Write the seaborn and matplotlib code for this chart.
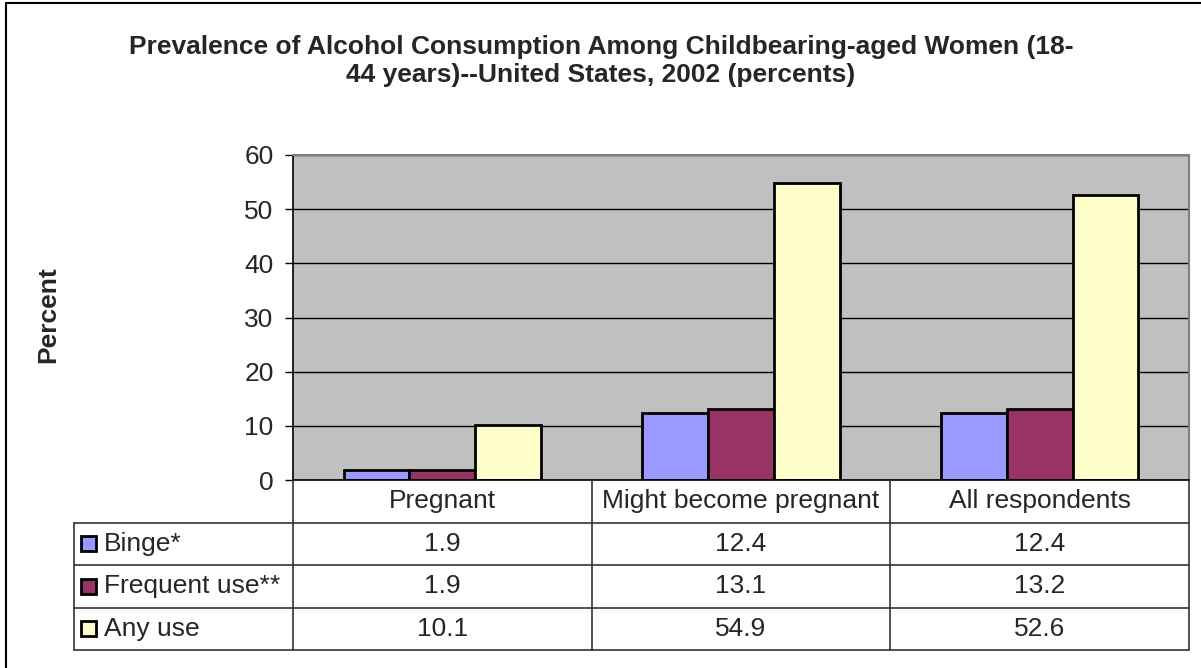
import numpy as np
import pandas as pd
import matplotlib
matplotlib.use("Agg")
import matplotlib.pyplot as plt
from matplotlib.patches import Rectangle
from matplotlib.lines import Line2D
import seaborn as sns

## data
groups = ["Pregnant", "Might become pregnant", "All respondents"]
series = ["Binge*", "Frequent use**", "Any use"]
binge = [1.9, 12.4, 12.4]
frequent = [1.9, 13.1, 13.2]
any_use = [10.1, 54.9, 52.6]
colors = ["#9999FF", "#993366", "#FFFFCC"]
yticks = [0, 10, 20, 30, 40, 50, 60]
title = "Prevalence of Alcohol Consumption Among Childbearing-aged Women (18-\n44 years)--United States, 2002 (percents)"

df = pd.DataFrame({
    "group": groups * 3,
    "series": np.repeat(series, len(groups)),
    "value": binge + frequent + any_use,
})
table_rows = [binge, frequent, any_use]

sns.set_style("white")
plt.rcParams['font.family'] = ['Liberation Sans', 'DejaVu Sans']
fs = 19

W, H = 1201, 668
def box(l, t, r, b):
    return [l / W, 1 - b / H, (r - l) / W, (b - t) / H]

fig = plt.figure(figsize=(W / 100, H / 100), dpi=100)

# main plot
ax = fig.add_axes(box(293, 155, 1189, 480))
sns.barplot(data=df, x="group", y="value", hue="series", palette=colors,
            width=0.66, saturation=1, edgecolor="black", linewidth=2,
            legend=False, ax=ax)
ax.set_facecolor("#C0C0C0")
ax.set_xlim(-0.5, 2.5)
ax.set_ylim(0, 60)
ax.set_yticks(yticks)
ax.yaxis.grid(True, color="black", linewidth=1)
ax.set_axisbelow(True)
ax.set_xticks([])
ax.set_xlabel("")
ax.set_ylabel("")
ax.tick_params(axis="y", left=True, length=6, width=1, labelsize=fs, pad=8, color="black")
for side in ["left", "bottom"]:
    ax.spines[side].set_color("black")
    ax.spines[side].set_linewidth(1.2)
for side in ["top", "right"]:
    ax.spines[side].set_color("#808080")
    ax.spines[side].set_linewidth(1.5)

# data table below the plot
tab = fig.add_axes(box(74, 480, 1189, 650))
unit = (1189 - 293) / 3
xmin = -0.5 - (293 - 74) / unit
tab.set_xlim(xmin, 2.5)
tab.set_ylim(4, 0)
tab.axis("off")
lc = "#333333"
for r in [1, 2, 3, 4]:
    tab.plot([xmin, 2.5], [r, r], color=lc, lw=1.2, clip_on=False)
tab.plot([xmin, xmin], [1, 4], color=lc, lw=1.2, clip_on=False)
for x in [-0.5, 0.5, 1.5, 2.5]:
    tab.plot([x, x], [0, 4], color=lc, lw=1.2, clip_on=False)

for i, g in enumerate(groups):
    tab.text(i, 0.5, g, ha="center", va="center", fontsize=fs)
for r, vals in enumerate(table_rows):
    for i, v in enumerate(vals):
        tab.text(i, r + 1.5, f"{v:.1f}", ha="center", va="center", fontsize=fs)
    sw = 15 / unit
    sh = 15 / 42.5
    tab.add_patch(Rectangle((xmin + 7 / unit, r + 1.5 - sh / 2), sw, sh,
                            facecolor=colors[r], edgecolor="black", lw=2, clip_on=False))
    tab.text(xmin + 30 / unit, r + 1.5, series[r], ha="left", va="center", fontsize=fs)

# title and axis label
fig.text(601 / W, 1 - 61 / H, title, ha="center", va="center", multialignment="center",
         fontsize=fs, fontweight="bold", linespacing=1.25)
fig.text(48 / W, 1 - 315 / H, "Percent", rotation=90, ha="center", va="center",
         fontsize=fs, fontweight="bold")

# outer chart border
fig.add_artist(Line2D([6 / W, 6 / W], [0, 1 - 3 / H], color="black", lw=1.5))
fig.add_artist(Line2D([6 / W, 1], [1 - 3 / H, 1 - 3 / H], color="black", lw=1.5))

fig.savefig("out.png", dpi=100, facecolor="white")
